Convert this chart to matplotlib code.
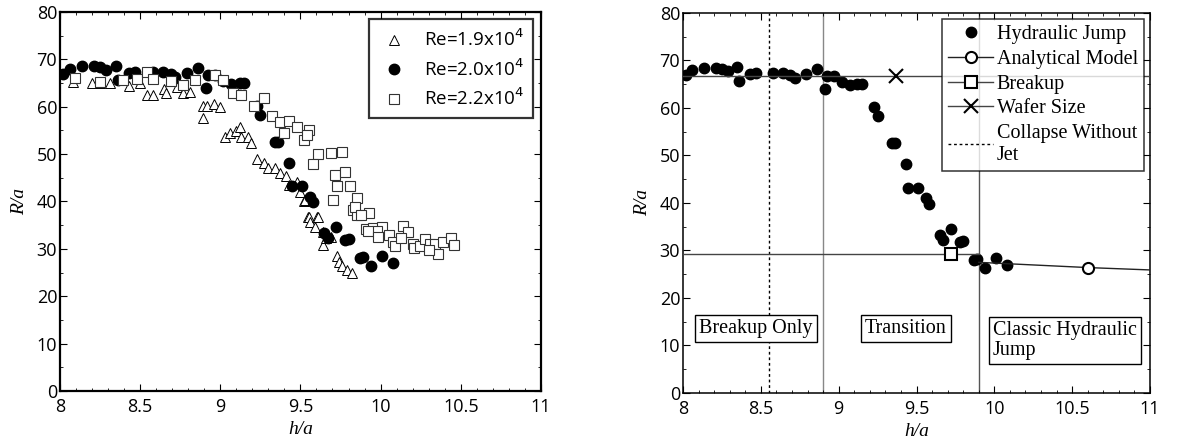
import matplotlib
matplotlib.use("Agg")
import matplotlib.pyplot as plt
from matplotlib.ticker import MultipleLocator

# ---- data ----
# Re = 1.9x10^4 (open triangles)
re19_h = [8.08, 8.20, 8.25, 8.31, 8.43, 8.50, 8.54, 8.58, 8.65, 8.66, 8.73, 8.77, 8.81,
          8.89, 8.89, 8.915, 8.96, 9.00, 9.03, 9.06, 9.10, 9.12, 9.13, 9.17, 9.19,
          9.23, 9.27, 9.30, 9.34, 9.37, 9.41, 9.43, 9.48, 9.50, 9.52, 9.53, 9.55,
          9.555, 9.56, 9.59, 9.605, 9.61, 9.64, 9.64, 9.66, 9.69, 9.725, 9.74, 9.76,
          9.79, 9.82]
re19_r = [65.3, 65.1, 65.0, 65.1, 64.4, 65.1, 62.5, 62.5, 63.7, 62.8, 64.1, 63.0, 63.2,
          60.2, 57.6, 60.2, 60.6, 59.9, 53.7, 54.4, 54.8, 55.7, 53.6, 53.6, 52.3,
          48.9, 48.1, 47.0, 47.0, 46.0, 45.3, 43.5, 44.2, 42.1, 40.0, 40.3, 36.8,
          36.8, 35.7, 34.7, 36.8, 36.8, 33.6, 30.8, 32.3, 32.6, 28.4, 27.3, 26.3,
          25.6, 25.0]

# Re = 2.0x10^4 (filled circles) -- same set is the "Hydraulic Jump" data
re20_h = [8.02, 8.06, 8.135, 8.21, 8.25, 8.29, 8.35, 8.36, 8.43, 8.47, 8.58, 8.645,
          8.69, 8.72, 8.79, 8.86, 8.91, 8.925, 8.97, 9.02, 9.07, 9.12, 9.15, 9.23,
          9.25, 9.34, 9.36, 9.43, 9.445, 9.51, 9.56, 9.58, 9.65, 9.67, 9.72, 9.78,
          9.80, 9.87, 9.89, 9.94, 10.01, 10.08]
re20_r = [66.9, 68.0, 68.5, 68.5, 68.3, 67.8, 68.6, 65.7, 67.2, 67.3, 67.4, 67.4,
          66.9, 66.2, 67.1, 68.1, 63.9, 66.7, 66.7, 65.5, 64.8, 65.1, 65.1, 60.2,
          58.3, 52.6, 52.6, 48.2, 43.2, 43.2, 41.0, 39.8, 33.3, 32.2, 34.6, 31.8,
          32.0, 28.0, 28.2, 26.4, 28.5, 27.0]

# Re = 2.2x10^4 (open squares)
re22_h = [8.094, 8.25, 8.395, 8.48, 8.545, 8.58, 8.69, 8.77, 8.84, 8.97, 9.02, 9.08,
          9.13, 9.21, 9.27, 9.32, 9.37, 9.43, 9.48, 9.40, 9.52, 9.555, 9.54, 9.61,
          9.69, 9.76, 9.58, 9.715, 9.78, 9.725, 9.81, 9.705, 9.855, 9.83, 9.93, 9.85,
          9.84, 9.88, 9.91, 9.955, 10.01, 9.975, 9.92, 9.985, 10.05, 10.08, 10.09,
          10.14, 10.17, 10.13, 10.20, 10.21, 10.245, 10.28, 10.31, 10.34, 10.36,
          10.39, 10.44, 10.46, 10.30]
re22_r = [66.0, 65.3, 65.7, 65.8, 67.4, 65.8, 65.4, 64.6, 65.7, 66.7, 65.7, 62.8,
          62.5, 60.2, 61.8, 58.1, 56.7, 56.9, 55.7, 54.4, 53.0, 55.0, 54.1, 50.0,
          50.3, 50.5, 48.0, 45.6, 46.3, 43.2, 43.2, 40.3, 40.7, 38.1, 37.5, 37.2,
          38.9, 37.2, 34.1, 34.3, 34.7, 33.7, 33.7, 32.6, 32.9, 31.5, 30.6,
          34.8, 33.5, 32.2, 31.1, 30.1, 30.5, 32.0, 31.1, 31.1, 29.0,
          31.5, 32.2, 30.8, 29.7]

# right panel model lines
wafer_h = [8.0, 9.37, 11.0]
wafer_r = [66.7, 66.7, 66.7]
breakup_h = [8.0, 9.72, 9.9]
breakup_r = [29.3, 29.3, 29.3]
model_h = [9.9, 10.6, 11.0]
model_r = [27.5, 26.4, 25.9]
collapse_h = 8.55
region_bounds = [8.9, 9.9]

sans = ["Open Sans", "DejaVu Sans"]
serif = ["Liberation Serif", "DejaVu Serif"]
plt.rcParams["font.family"] = sans

fig = plt.figure(figsize=(11.8, 4.44), dpi=100)
ax1 = fig.add_axes([0.0508, 0.1194, 0.4076, 0.8536])
ax2 = fig.add_axes([0.5788, 0.1149, 0.3958, 0.856])


def style(ax, spine_w):
    ax.set_xlim(8, 11)
    ax.set_ylim(0, 80)
    ax.xaxis.set_major_locator(MultipleLocator(0.5))
    ax.xaxis.set_minor_locator(MultipleLocator(0.1))
    ax.yaxis.set_major_locator(MultipleLocator(10))
    ax.yaxis.set_minor_locator(MultipleLocator(5))
    ax.tick_params(which="both", direction="in", top=True, right=True, labelsize=13)
    ax.tick_params(which="major", length=5)
    ax.tick_params(which="minor", length=2.5)
    ax.tick_params(axis="x", which="major", pad=5)
    ax.tick_params(axis="y", which="major", pad=2)
    for s in ax.spines.values():
        s.set_linewidth(spine_w)
    ax.xaxis.set_major_formatter(plt.FuncFormatter(lambda v, p: f"{v:g}"))
    ax.set_xlabel("h/a", family=serif, style="italic", fontsize=14, labelpad=4)
    ax.set_ylabel("R/a", family=serif, style="italic", fontsize=14, labelpad=6)


# -------- left panel --------
style(ax1, 1.6)
ax1.plot(re19_h, re19_r, ls="none", marker="^", ms=7.5, mfc="white", mec="black", mew=0.7,
         label="Re=1.9x10$^{\\mathsf{4}}$")
ax1.plot(re20_h, re20_r, ls="none", marker="o", ms=7.5, mfc="black", mec="black",
         label="Re=2.0x10$^{\\mathsf{4}}$")
ax1.plot(re22_h, re22_r, ls="none", marker="s", ms=6.5, mfc="white", mec="#333333", mew=0.8,
         label="Re=2.2x10$^{\\mathsf{4}}$")
leg1 = ax1.legend(loc="upper right", fontsize=13.5, frameon=True, fancybox=False,
                  edgecolor="black", handlelength=1.6, handletextpad=0.8,
                  borderpad=0.5, labelspacing=0.42, borderaxespad=0.4)
leg1.get_frame().set_linewidth(1.6)

# -------- right panel --------
style(ax2, 1.1)
ax2.axvline(region_bounds[0], color="#888888", lw=1.0, zorder=1)
ax2.axvline(region_bounds[1], color="#555555", lw=1.0, zorder=1)
ax2.axvline(collapse_h, color="black", lw=1.0, ls=(0, (2, 2)), zorder=1)
ax2.plot(re20_h, re20_r, ls="none", marker="o", ms=7.5, mfc="black", mec="black",
         label="Hydraulic Jump", zorder=3)
ax2.plot(model_h, model_r, color="#222222", lw=1.0, marker="o", markevery=[1], ms=8,
         mfc="white", mec="black", mew=1.5, label="Analytical Model", zorder=4)
ax2.plot(breakup_h, breakup_r, color="#444444", lw=1.0, marker="s", markevery=[1], ms=8,
         mfc="white", mec="black", mew=1.5, label="Breakup", zorder=4)
ax2.plot(wafer_h, wafer_r, color="#444444", lw=1.0, marker="x", markevery=[1], ms=10,
         mec="black", mew=1.5, label="Wafer Size", zorder=4)
ax2.plot([], [], color="black", lw=1.0, ls=(0, (2, 2)), label="Collapse Without\nJet")
leg2 = ax2.legend(loc="upper right", frameon=True, fancybox=False,
                  edgecolor="black", handlelength=2.2, handletextpad=0.2,
                  borderpad=0.3, labelspacing=0.28, borderaxespad=0.3,
                  prop={"family": serif, "size": 14.5})
leg2.get_frame().set_linewidth(1.1)

box = dict(boxstyle="square,pad=0.2", fc="white", ec="black", lw=1.0)
ax2.text(8.47, 13.5, "Breakup Only", family=serif, fontsize=14.5, ha="center", va="center", bbox=box)
ax2.text(9.43, 13.5, "Transition", family=serif, fontsize=14.5, ha="center", va="center", bbox=box)
ax2.text(9.99, 11.0, "Classic Hydraulic\nJump", family=serif, fontsize=14.5, ha="left",
         va="center", linespacing=1.1, bbox=box)

fig.savefig("out.png", dpi=100)
